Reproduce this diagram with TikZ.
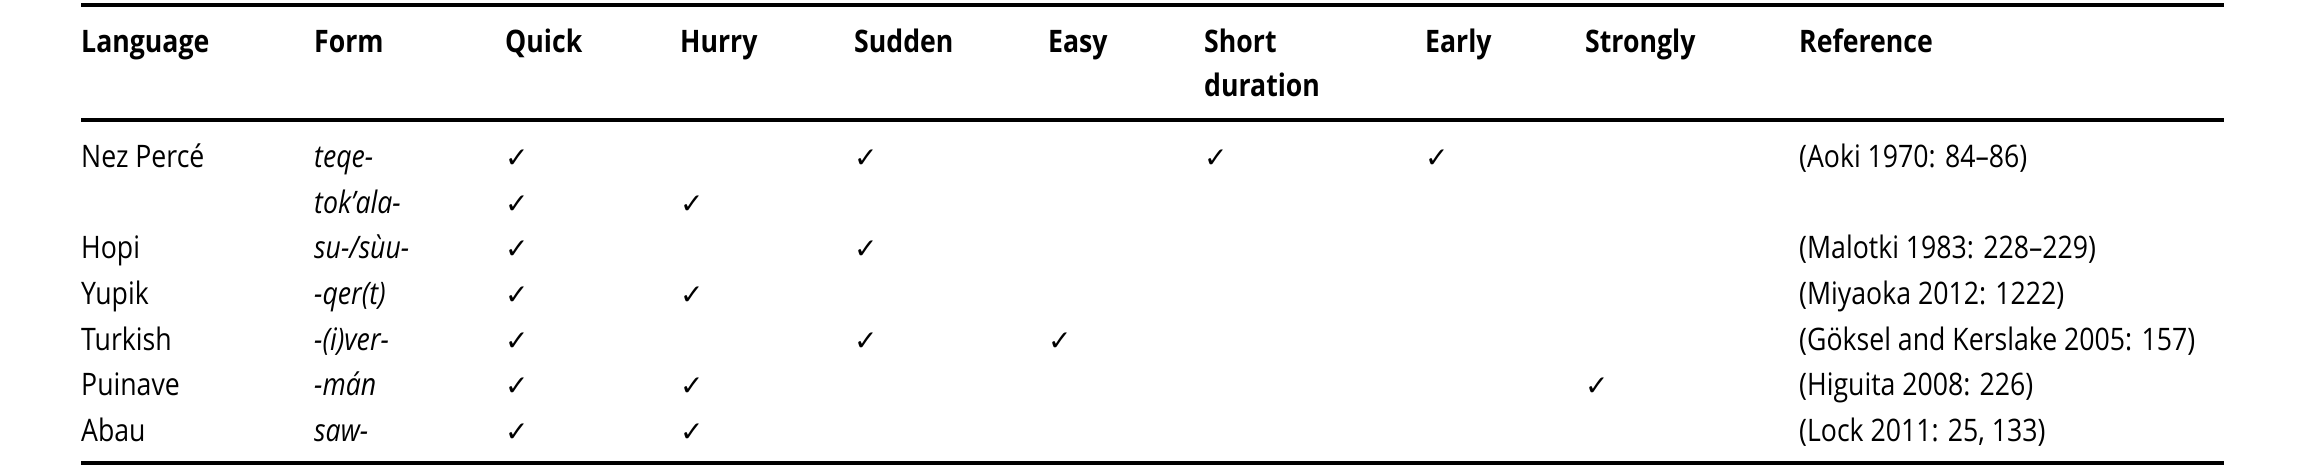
\documentclass[tikz,border=0pt]{standalone}
\usepackage{fontspec}
\setmainfont{Open Sans}[FakeStretch=0.86]
\newfontfamily\chk{DejaVu Sans}
\begin{document}
\begin{tikzpicture}[x=1pt,y=-1pt,
  cell/.style={anchor=base west,inner sep=0pt,font=\fontsize{31}{44}\selectfont},
  hd/.style={cell,font=\fontsize{31}{44}\selectfont\bfseries,align=left},
  it/.style={cell,font=\fontsize{31}{44}\selectfont\itshape},
  ck/.style={cell,font=\fontsize{28}{40}\chk},
  rulel/.style={line width=4.5pt}]
\useasboundingbox (0,0) rectangle (2308,474);
\coordinate (tl) at (81,5); \coordinate (tr) at (2224,5);
\coordinate (ml) at (81,120); \coordinate (mr) at (2224,120);
\coordinate (bl) at (81,463); \coordinate (br) at (2224,463);
\draw[rulel] (tl) -- (tr);
\draw[rulel] (ml) -- (mr);
\draw[rulel] (bl) -- (br);
\def\xL{81}\def\xF{314}\def\xQ{505}\def\xH{680}\def\xS{854}\def\xE{1048}\def\xD{1204}\def\xR{1425}\def\xG{1585}\def\xRef{1799}
\node[hd] (h1) at (\xL,52) {Language};
\node[hd] (h2) at (\xF,52) {Form};
\node[hd] (h3) at (\xQ,52) {Quick};
\node[hd] (h4) at (\xH,52) {Hurry};
\node[hd] (h5) at (\xS,52) {Sudden};
\node[hd] (h6) at (\xE,52) {Easy};
\node[hd] (h7) at (\xD,52) {Short};
\node[hd] (h7b) at (\xD,96) {duration};
\node[hd] (h8) at (\xR,52) {Early};
\node[hd] (h9) at (\xG,52) {Strongly};
\node[hd] (h10) at (\xRef,52) {Reference};
% rows
\node[cell] (l1) at (\xL,167) {Nez Percé};
\node[it] (f1) at (\xF,167) {teqe-};
\node[ck] (c11) at (\xQ,167) {✓};
\node[ck] (c13) at (\xS,167) {✓};
\node[ck] (c16) at (\xD,167) {✓};
\node[ck] (c17) at (\xR,167) {✓};
\node[cell] (r1) at (\xRef,167) {(Aoki 1970: 84–86)};
\node[it] (f2) at (\xF,213) {tok’ala-};
\node[ck] (c21) at (\xQ,213) {✓};
\node[ck] (c22) at (\xH,213) {✓};
\node[cell] (l3) at (\xL,258) {Hopi};
\node[it] (f3) at (\xF,258) {su-/sùu-};
\node[ck] (c31) at (\xQ,258) {✓};
\node[ck] (c33) at (\xS,258) {✓};
\node[cell] (r3) at (\xRef,258) {(Malotki 1983: 228–229)};
\node[cell] (l4) at (\xL,304) {Yupik};
\node[it] (f4) at (\xF,304) {-qer(t)};
\node[ck] (c41) at (\xQ,304) {✓};
\node[ck] (c42) at (\xH,304) {✓};
\node[cell] (r4) at (\xRef,304) {(Miyaoka 2012: 1222)};
\node[cell] (l5) at (\xL,350) {Turkish};
\node[it] (f5) at (\xF,350) {-(i)ver-};
\node[ck] (c51) at (\xQ,350) {✓};
\node[ck] (c53) at (\xS,350) {✓};
\node[ck] (c54) at (\xE,350) {✓};
\node[cell] (r5) at (\xRef,350) {(Göksel and Kerslake 2005: 157)};
\node[cell] (l6) at (\xL,395) {Puinave};
\node[it] (f6) at (\xF,395) {-mán};
\node[ck] (c61) at (\xQ,395) {✓};
\node[ck] (c62) at (\xH,395) {✓};
\node[ck] (c68) at (\xG,395) {✓};
\node[cell] (r6) at (\xRef,395) {(Higuita 2008: 226)};
\node[cell] (l7) at (\xL,441) {Abau};
\node[it] (f7) at (\xF,441) {saw-};
\node[ck] (c71) at (\xQ,441) {✓};
\node[ck] (c72) at (\xH,441) {✓};
\node[cell] (r7) at (\xRef,441) {(Lock 2011: 25, 133)};
\end{tikzpicture}
\end{document}
